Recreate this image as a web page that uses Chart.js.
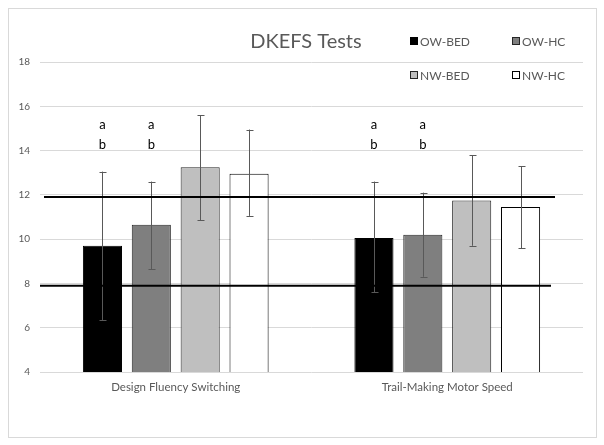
<!DOCTYPE html>
<html>
<head>
<meta charset="utf-8">
<script src="https://cdn.jsdelivr.net/npm/chart.js@4/dist/chart.umd.min.js"></script>
<style>
  html, body { margin: 0; padding: 0; background: #fff; }
  #wrap { width: 604px; height: 445px; }
</style>
</head>
<body>
<div id="wrap"><canvas id="chart" width="604" height="445"></canvas></div>
<script>
// data
var categories = ['Design Fluency Switching', 'Trail-Making Motor Speed'];
var seriesNames = ['OW-BED', 'OW-HC', 'NW-BED', 'NW-HC'];
var owBed = [9.7, 10.05];
var owHc = [10.65, 10.2];
var nwBed = [13.25, 11.75];
var nwHc = [12.95, 11.45];
var owBedLow = [6.35, 7.6], owBedHigh = [13.05, 12.6];
var owHcLow = [8.65, 8.3], owHcHigh = [12.6, 12.1];
var nwBedLow = [10.85, 9.7], nwBedHigh = [15.6, 13.8];
var nwHcLow = [11.05, 9.6], nwHcHigh = [14.95, 13.3];
var refLines = [11.9, 7.9];
var sigLetters = ['a', 'b'];
var sigValues = [15.15, 14.25];
var sigSeries = [0, 1];
var yTicks = [4, 6, 8, 10, 12, 14, 16, 18];

var textGray = '#595959';
var fontFam = 'Lato, "Noto Sans", sans-serif';

var framePlugin = {
    id: 'frame',
    beforeDraw: function(chart) {
        var ctx = chart.ctx;
        ctx.save();
        ctx.fillStyle = '#fff';
        ctx.fillRect(0, 0, chart.width, chart.height);
        ctx.strokeStyle = '#d9d9d9';
        ctx.lineWidth = 1;
        ctx.strokeRect(8.5, 8.5, 588, 429);
        ctx.restore();
    }
};

var extrasPlugin = {
    id: 'extras',
    afterDatasetsDraw: function(chart) {
        var ctx = chart.ctx;
        var y = chart.scales.y;
        var area = chart.chartArea;
        ctx.save();
        // error bars
        chart.data.datasets.forEach(function(ds, di) {
            var meta = chart.getDatasetMeta(di);
            meta.data.forEach(function(bar, i) {
                var lo = y.getPixelForValue(ds.errLow[i]);
                var hi = y.getPixelForValue(ds.errHigh[i]);
                var x = Math.round(bar.x) + 0.5;
                ctx.strokeStyle = '#595959';
                ctx.lineWidth = 1;
                ctx.beginPath();
                ctx.moveTo(x, lo); ctx.lineTo(x, hi);
                ctx.moveTo(x - 3, Math.round(lo) + 0.5); ctx.lineTo(x + 4, Math.round(lo) + 0.5);
                ctx.moveTo(x - 3, Math.round(hi) + 0.5); ctx.lineTo(x + 4, Math.round(hi) + 0.5);
                ctx.stroke();
            });
        });
        // reference lines
        ctx.strokeStyle = '#000';
        ctx.lineWidth = 2;
        refLines.forEach(function(v, k) {
            var py = y.getPixelForValue(v);
            ctx.beginPath();
            ctx.moveTo(area.left + (k === 0 ? 4 : 0), py);
            ctx.lineTo(area.right - (k === 0 ? 28 : 32), py);
            ctx.stroke();
        });
        // significance letters
        ctx.fillStyle = '#000';
        ctx.font = '13px ' + fontFam;
        ctx.textAlign = 'center';
        ctx.textBaseline = 'middle';
        sigSeries.forEach(function(di) {
            chart.getDatasetMeta(di).data.forEach(function(bar) {
                sigLetters.forEach(function(t, k) {
                    ctx.fillText(t, bar.x, y.getPixelForValue(sigValues[k]));
                });
            });
        });
        // title
        ctx.fillStyle = textGray;
        ctx.font = '20px ' + fontFam;
        ctx.fillText('DKEFS Tests', 306, 42);
        // legend 2x2
        ctx.font = '12px ' + fontFam;
        ctx.textAlign = 'left';
        var cols = [410, 512], rows = [41, 75];
        chart.data.datasets.forEach(function(ds, di) {
            var lx = cols[di % 2], ly = rows[Math.floor(di / 2)];
            ctx.fillStyle = ds.backgroundColor;
            ctx.fillRect(lx, ly - 4, 8, 8);
            ctx.strokeStyle = ds.borderColor;
            ctx.lineWidth = 1;
            ctx.strokeRect(lx + 0.5, ly - 3.5, 7, 7);
            ctx.fillStyle = textGray;
            ctx.fillText(ds.label, lx + 10, ly + 1);
        });
        ctx.restore();
    }
};

var ctxBar = document.getElementById('chart').getContext('2d');
var chart = new Chart(ctxBar, {
    type: 'bar',
    data: {
        labels: categories,
        datasets: [
            { label: seriesNames[0], data: owBed, errLow: owBedLow, errHigh: owBedHigh, backgroundColor: '#000000', borderColor: '#000000', borderWidth: 1 },
            { label: seriesNames[1], data: owHc, errLow: owHcLow, errHigh: owHcHigh, backgroundColor: '#7f7f7f', borderColor: '#262626', borderWidth: 1 },
            { label: seriesNames[2], data: nwBed, errLow: nwBedLow, errHigh: nwBedHigh, backgroundColor: '#bfbfbf', borderColor: '#262626', borderWidth: 1 },
            { label: seriesNames[3], data: nwHc, errLow: nwHcLow, errHigh: nwHcHigh, backgroundColor: '#ffffff', borderColor: '#000000', borderWidth: 1 }
        ]
    },
    options: {
        responsive: false,
        animation: false,
        layout: { padding: { top: 62, right: 21, left: 0, bottom: 0 } },
        categoryPercentage: 0.72,
        barPercentage: 0.8,
        plugins: {
            legend: { display: false },
            title: { display: false },
            tooltip: { enabled: false }
        },
        scales: {
            x: {
                grid: { display: false, drawTicks: false },
                border: { display: false },
                ticks: { color: textGray, font: { family: fontFam, size: 11.5 }, padding: 8 },
                afterFit: function(s) { s.height = 73; }
            },
            y: {
                min: 4,
                max: 18,
                afterBuildTicks: function(s) { s.ticks = yTicks.map(function(v) { return { value: v }; }); },
                grid: { color: '#d9d9d9', drawTicks: false },
                border: { display: false },
                ticks: { color: textGray, font: { family: fontFam, size: 10 }, padding: 10 },
                afterFit: function(s) { s.width = 40; }
            }
        }
    },
    plugins: [framePlugin, extrasPlugin]
});
</script>
</body>
</html>
